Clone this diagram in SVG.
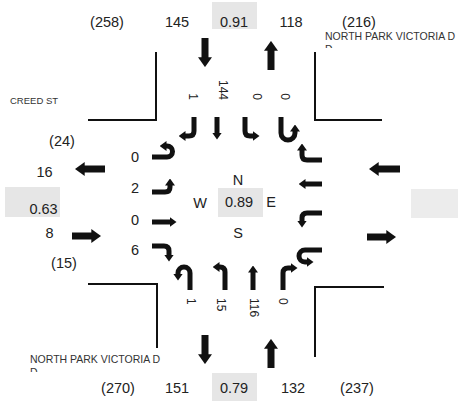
<svg xmlns="http://www.w3.org/2000/svg" width="458" height="401" viewBox="0 0 458 401">
<style>
.t{font-family:"Liberation Sans",Arial,sans-serif;font-size:14.5px;fill:#222;text-anchor:middle}
.ln{font-family:"Liberation Sans",Arial,sans-serif;font-size:12px;fill:#222}
.st{font-family:"Liberation Sans",Arial,sans-serif;font-size:10.5px;fill:#333}
.box{fill:#e6e6e6}
.curb{fill:none;stroke:#111;stroke-width:2}
.lane{fill:none;stroke:#111;stroke-width:5;stroke-linejoin:round;marker-end:url(#ah)}
.app{fill:none;stroke:#111;stroke-width:7;marker-end:url(#ah)}
</style>
<defs>
<marker id="ah" viewBox="0 0 7 10" refX="0.5" refY="5" markerWidth="1.4" markerHeight="2" orient="auto" markerUnits="strokeWidth"><path d="M0,0 L7,5 L0,10 z" fill="#111"/></marker>
<clipPath id="c1"><rect x="320" y="0" width="138" height="48"/></clipPath>
<clipPath id="c2"><rect x="20" y="340" width="160" height="32"/></clipPath>
</defs>
<rect width="458" height="401" fill="#fff"/>

<g id="curbs">
<path class="curb" d="M88,120 H156 V52"/>
<path class="curb" d="M315,52 V120 H382"/>
<path class="curb" d="M88,284 H157 V348"/>
<path class="curb" d="M315,357 V287 H384"/>
</g>

<g id="labels">
<text class="st" x="325" y="40">NORTH PARK VICTORIA D</text>
<text class="st" x="325" y="52.5" clip-path="url(#c1)">D</text>
<text class="st" x="30" y="363">NORTH PARK VICTORIA D</text>
<text class="st" x="30" y="375.5" clip-path="url(#c2)">D</text>
<text class="st" x="10" y="104" style="font-size:9.5px">CREED ST</text>
</g>

<g id="north">
<rect class="box" x="212" y="2" width="45" height="27"/>
<text class="t" x="107" y="27">(258)</text>
<text class="t" x="177" y="27">145</text>
<text class="t" x="234" y="27">0.91</text>
<text class="t" x="291" y="27">118</text>
<text class="t" x="359" y="27">(216)</text>
<text class="ln" text-anchor="end" dominant-baseline="central" transform="translate(193,100) rotate(90)">1</text>
<text class="ln" text-anchor="end" dominant-baseline="central" transform="translate(223,100) rotate(90)">144</text>
<text class="ln" text-anchor="end" dominant-baseline="central" transform="translate(257,100) rotate(90)">0</text>
<text class="ln" text-anchor="end" dominant-baseline="central" transform="translate(285,100) rotate(90)">0</text>
<path class="lane" d="M194,117 V131 Q194,136 189,136 H185"/>
<path class="lane" d="M217,117 V133"/>
<path class="lane" d="M245,117 V131 Q245,136 250,136 H253"/>
<path class="lane" d="M281,117 V133 A7,7 0 0 0 295,133 V131"/>
</g>

<g id="south">
<rect class="box" x="212" y="373" width="45" height="28"/>
<text class="t" x="118" y="393">(270)</text>
<text class="t" x="177" y="393">151</text>
<text class="t" x="234" y="393">0.79</text>
<text class="t" x="293" y="393">132</text>
<text class="t" x="357" y="393">(237)</text>
<text class="ln" text-anchor="start" dominant-baseline="central" transform="translate(191,298) rotate(90)">1</text>
<text class="ln" text-anchor="start" dominant-baseline="central" transform="translate(221,298) rotate(90)">15</text>
<text class="ln" text-anchor="start" dominant-baseline="central" transform="translate(254,298) rotate(90)">116</text>
<text class="ln" text-anchor="start" dominant-baseline="central" transform="translate(283,298) rotate(90)">0</text>
<path class="lane" d="M190,290 V273 A6,6 0 0 0 178,273 V274"/>
<path class="lane" d="M225,290 V272 Q225,267 220,267 H219"/>
<path class="lane" d="M253,290 V272"/>
<path class="lane" d="M283,290 V273 Q283,268 288,268 H291"/>
</g>

<g id="west">
<rect class="box" x="5" y="187" width="55" height="30"/>
<text class="t" x="62" y="146">(24)</text>
<text class="t" x="44.5" y="177">16</text>
<text class="t" x="43.5" y="214">0.63</text>
<text class="t" x="49.5" y="238">8</text>
<text class="t" x="64" y="268">(15)</text>
<text class="t" x="135" y="162">0</text>
<text class="t" x="135" y="193">2</text>
<text class="t" x="135" y="225">0</text>
<text class="t" x="135" y="255">6</text>
<path class="lane" d="M152,157 H167 A5.5,5.5 0 0 0 167,146 H166"/>
<path class="lane" d="M152,192 H165 Q170,192 170,187 V185"/>
<path class="lane" d="M152,222 H170"/>
<path class="lane" d="M152,246 H164 Q169,246 169,251 V255"/>
</g>

<g id="east">
<rect x="411" y="189" width="47" height="29" fill="#ececec"/>
<path class="lane" d="M322,160 H307 Q302,160 302,155 V150"/>
<path class="lane" d="M322,184 H305"/>
<path class="lane" d="M322,213 H307 Q302,213 302,218 V221"/>
<path class="lane" d="M322,250 H305 A6,6 0 0 0 305,262 H307"/>
</g>

<g id="center">
<rect class="box" x="218" y="188" width="45" height="29"/>
<text class="t" x="238" y="185">N</text>
<text class="t" x="200" y="208">W</text>
<text class="t" x="239" y="207">0.89</text>
<text class="t" x="271" y="207">E</text>
<text class="t" x="238" y="238">S</text>
</g>

<g id="connectors">
<path class="app" d="M205,38 V58"/>
<path class="app" d="M271,70 V50"/>
<path class="app" d="M205,335 V355"/>
<path class="app" d="M271,368 V348"/>
<path class="app" d="M105,169 H84"/>
<path class="app" d="M72,236 H92"/>
<path class="app" d="M400,169 H378"/>
<path class="app" d="M367,237 H387"/>
</g>
</svg>
